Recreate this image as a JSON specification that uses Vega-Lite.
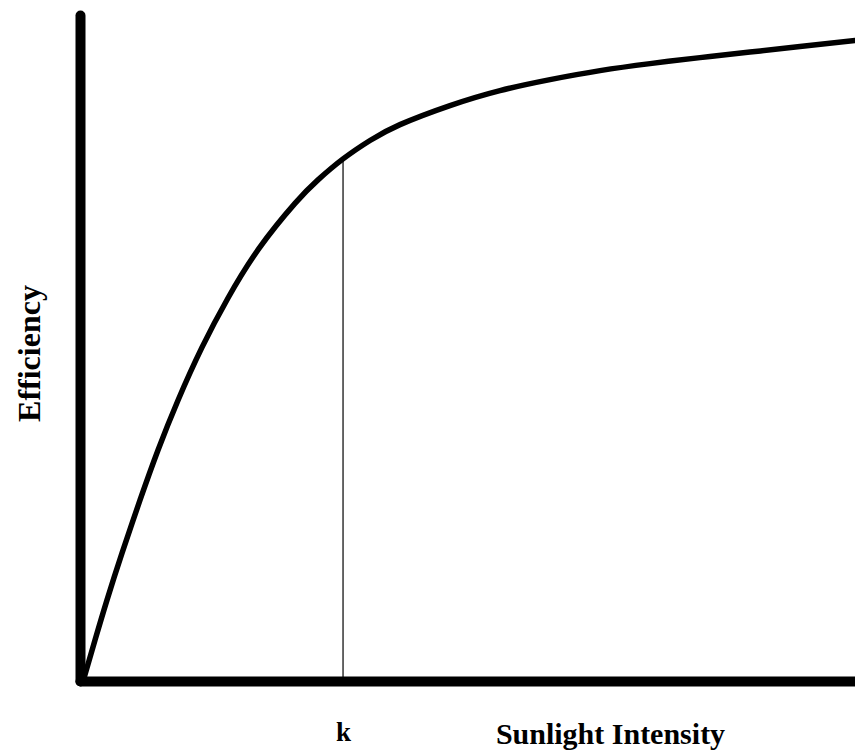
{
  "$schema": "https://vega.github.io/schema/vega-lite/v6.json",
  "width": 775,
  "height": 666,
  "autosize": "none",
  "padding": {"left": 80, "top": 15, "right": 0, "bottom": 73},
  "background": "white",
  "config": {"view": {"stroke": null}},
  "data": {
    "values": [
      {"x": 0.52, "y": 0.45},
      {"x": 1.94, "y": 6.15},
      {"x": 3.48, "y": 12.15},
      {"x": 5.42, "y": 19.2},
      {"x": 7.74, "y": 27.15},
      {"x": 10.06, "y": 34.65},
      {"x": 12.65, "y": 42.16},
      {"x": 15.74, "y": 50.09},
      {"x": 19.1, "y": 57.51},
      {"x": 23.1, "y": 64.95},
      {"x": 27.74, "y": 71.71},
      {"x": 30.71, "y": 75.24},
      {"x": 33.94, "y": 78.39},
      {"x": 37.42, "y": 81.16},
      {"x": 41.29, "y": 83.54},
      {"x": 47.74, "y": 86.4},
      {"x": 54.19, "y": 88.65},
      {"x": 60.65, "y": 90.3},
      {"x": 67.1, "y": 91.65},
      {"x": 73.55, "y": 92.7},
      {"x": 80.0, "y": 93.6},
      {"x": 86.45, "y": 94.43},
      {"x": 92.9, "y": 95.26},
      {"x": 100, "y": 96.16}
    ]
  },
  "layer": [
    {
      "mark": {"type": "line", "color": "black", "strokeWidth": 5.5, "interpolate": "natural", "strokeCap": "round"},
      "encoding": {
        "x": {
          "field": "x", "type": "quantitative",
          "scale": {"domain": [0, 100], "nice": false, "zero": false},
          "axis": {
            "title": "Sunlight Intensity",
            "values": [33.94],
            "labelExpr": "'k'",
            "ticks": false,
            "grid": false,
            "domainWidth": 10,
            "domainColor": "black",
            "domainCap": "round",
            "labelFont": "Liberation Serif",
            "labelFontWeight": "bold",
            "labelFontSize": 27,
            "labelColor": "black",
            "labelBaseline": "alphabetic",
            "labelPadding": 59,
            "labelDx": 6,
            "labelFlush": false,
            "titleFont": "Liberation Serif",
            "titleFontWeight": "bold",
            "titleFontSize": 30,
            "titleColor": "black",
            "titleAlign": "center",
            "titleBaseline": "alphabetic",
            "titleX": 530,
            "titleY": 62
          }
        },
        "y": {
          "field": "y", "type": "quantitative",
          "scale": {"domain": [0, 100], "nice": false, "zero": false},
          "axis": {
            "title": "Efficiency",
            "labels": false,
            "ticks": false,
            "grid": false,
            "domainWidth": 10,
            "domainColor": "black",
            "domainCap": "round",
            "titleFont": "Liberation Serif",
            "titleFontWeight": "bold",
            "titleFontSize": 32,
            "titleColor": "black",
            "titleAngle": -90,
            "titleAlign": "center",
            "titleBaseline": "alphabetic",
            "titleX": -41,
            "titleY": 338
          }
        }
      }
    },
    {
      "data": {"values": [{"x": 33.94, "y0": 0, "y1": 78.39}]},
      "mark": {"type": "rule", "color": "black", "strokeWidth": 1.2},
      "encoding": {
        "x": {"field": "x", "type": "quantitative"},
        "y": {"field": "y0", "type": "quantitative"},
        "y2": {"field": "y1"}
      }
    }
  ]
}
